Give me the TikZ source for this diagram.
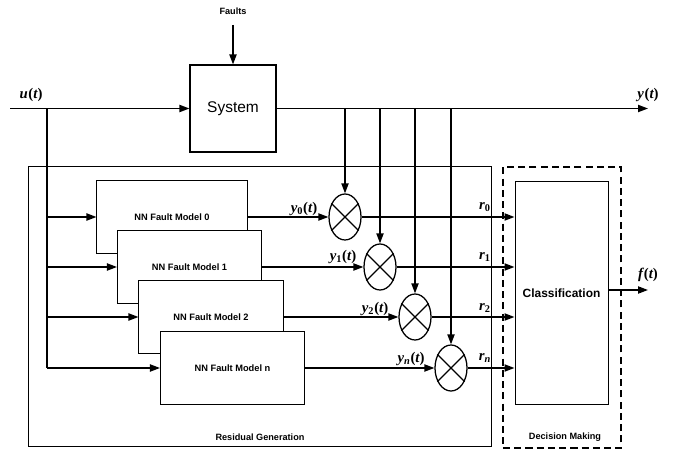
\documentclass[tikz,border=0pt]{standalone}
\usepackage{fontspec}
\setmainfont{Liberation Sans}
\newfontfamily\sigfont{Liberation Serif}
\usetikzlibrary{shapes.geometric, arrows.meta, positioning, calc}
\tikzstyle{sysblock} = [rectangle, draw, line width=0.8pt, fill=white, minimum width=2.15cm, minimum height=2.175cm, font=\fontsize{11}{13}\selectfont]
\tikzstyle{nnblock} = [rectangle, draw, line width=0.7pt, fill=white, minimum width=3.6cm, minimum height=1.8cm, font=\bfseries\fontsize{6.6}{8}\selectfont]
\tikzstyle{mult} = [ellipse, draw, line width=0.9pt, fill=white, minimum width=0.8cm, minimum height=1.15cm, inner sep=0pt]
\tikzstyle{arrow} = [-{Triangle[length=2.5mm, width=1.8mm]}, line width=1pt]
\tikzstyle{wire} = [line width=1pt]
\tikzstyle{sig} = [font=\sigfont\bfseries\fontsize{10.5}{12}\selectfont, inner sep=1pt]
\tikzstyle{caption} = [font=\bfseries\fontsize{6.5}{8}\selectfont]
\newcommand{\sigof}[2]{{\itshape #1}\textsubscript{#2}({\itshape t})}

\begin{document}
\begin{tikzpicture}[x=0.025cm, y=-0.025cm]
    \useasboundingbox (0,0) rectangle (682,451);

    % Residual Generation and Decision Making frames
    \node[draw, line width=0.6pt, minimum width=11.575cm, minimum height=7cm] (resid) at (259.5,306) {};
    \node[caption] (residlbl) at (260,437) {Residual Generation};
    \node[draw, line width=1.6pt, dash pattern=on 5pt off 3pt, minimum width=2.95cm, minimum height=7.025cm] (decide) at (562,307.5) {};
    \node[caption] (decidelbl) at (565,437) {Decision Making};
    \node[draw, line width=0.7pt, minimum width=2.325cm, minimum height=5.55cm, font=\bfseries\fontsize{8.5}{10}\selectfont] (cls) at (561.5,293) {Classification};

    % System
    \node[sysblock] (sys) at (233,108.5) {System};
    \node[caption] (faults) at (233,11) {Faults};
    \coordinate (fin) at (233,25);
    \draw[arrow] (fin) -- (sys);

    \coordinate (uin) at (10,108.5);
    \coordinate (ub) at (47,108.5);
    \coordinate (yout) at (648,108.5);
    \node[sig] (ulbl) at (31,95) {\sigof{u}{}};
    \node[sig] (ylbl) at (648,95) {\sigof{y}{}};
    \draw[arrow] (uin) -- (sys);
    \draw[arrow] (sys) -- (yout);

    % NN Fault Models
    \node[nnblock, minimum width=3.75cm] (m0) at (172,217) {NN Fault Model 0};
    \node[nnblock] (m1) at (189.5,267) {NN Fault Model 1};
    \node[nnblock] (m2) at (211,317) {NN Fault Model 2};
    \node[nnblock] (mn) at (232.5,368) {NN Fault Model n};

    % Inputs to the models
    \draw[wire] (ub) -- (ub |- mn);
    \foreach \m in {m0,m1,m2,mn}
        \draw[arrow] (ub |- \m) -- (\m);

    % Comparators
    \node[mult] (x0) at (345,217) {};
    \node[mult] (x1) at (380,267) {};
    \node[mult] (x2) at (415,317) {};
    \node[mult] (xn) at (451,368) {};
    \foreach \m in {x0,x1,x2,xn} {
        \draw[line width=0.9pt] (\m.45) -- (\m.225) (\m.135) -- (\m.315);
        \draw[arrow] (\m |- yout) -- (\m);
        \draw[arrow] (\m) -- (\m -| cls.west);
    }
    \draw[arrow] (m0) -- (x0);
    \draw[arrow] (m1) -- (x1);
    \draw[arrow] (m2) -- (x2);
    \draw[arrow] (mn) -- (xn);

    % Model outputs and residuals
    \node[sig] (y0lbl) at (304,209) {\sigof{y}{0}};
    \node[sig] (y1lbl) at (343,257) {\sigof{y}{1}};
    \node[sig] (y2lbl) at (375,309) {\sigof{y}{2}};
    \node[sig] (ynlbl) at (411,359) {\sigof{y}{\itshape n}};
    \node[sig] (r0lbl) at (485,207) {{\itshape r}\textsubscript{0}};
    \node[sig] (r1lbl) at (485,257) {{\itshape r}\textsubscript{1}};
    \node[sig] (r2lbl) at (485,308) {{\itshape r}\textsubscript{2}};
    \node[sig] (rnlbl) at (485,358) {{\itshape r}\textsubscript{\itshape n}};

    % Decision output
    \coordinate (fout) at (648,290);
    \node[sig] (flbl) at (648,275) {\sigof{f}{}};
    \draw[arrow] (cls.east |- fout) -- (fout);
\end{tikzpicture}
\end{document}
